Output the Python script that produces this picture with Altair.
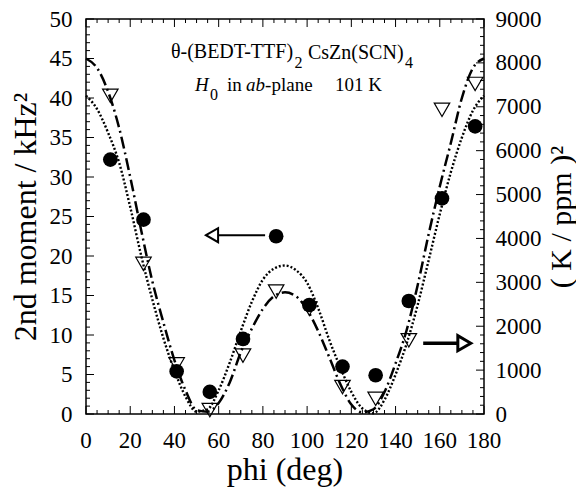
import altair as alt
import pandas as pd

# ---------------- data ----------------
phi_pts = [11, 26, 41, 56, 71, 86, 101, 116, 131, 146, 161, 176]
moment_circles = [32.2, 24.6, 5.4, 2.8, 9.5, 22.5, 13.8, 6.0, 4.9, 14.3, 27.3, 36.4]      # left axis, kHz^2
shift_triangles = [7250, 3420, 1130, 90, 1330, 2790, 2400, 615, 345, 1680, 6930, 7520]    # right axis, (K/ppm)^2

phi_fit = list(range(0, 181, 5))
fit_dashdot = [45.0, 43.8, 40.8, 36.2, 30.0, 23.2, 16.8, 11.6, 6.8, 3.0, 0.5, 0.3, 1.4, 4.0,
               7.8, 10.8, 13.3, 14.9, 15.4, 14.9, 13.2, 10.5, 7.2, 3.8, 1.2, 0.2, 0.6, 2.8,
               6.4, 10.6, 16.3, 22.8, 28.8, 34.3, 40.0, 43.8, 45.0]
fit_dotted = [40.3, 38.6, 35.6, 31.8, 26.2, 20.0, 14.5, 9.6, 5.5, 2.2, 0.3, 0.6, 3.0, 6.5,
              10.5, 14.2, 17.0, 18.4, 18.8, 18.2, 16.6, 13.4, 9.4, 5.9, 2.8, 0.7, 0.1, 1.8,
              5.0, 8.9, 13.8, 19.5, 25.3, 30.6, 35.0, 38.4, 40.3]

x_labels = list(range(0, 181, 20))
yl_labels = list(range(0, 51, 5))
yr_labels = list(range(0, 9001, 1000))
x_minor = list(range(0, 181, 5))
yl_minor = list(range(0, 51, 1))
yr_minor = list(range(0, 9001, 200))
x_title = "phi (deg)"

# the right axis (0..9000) spans the same height as the left axis (0..50)
RIGHT_PER_LEFT = 9000 / 50

# annotation text pieces (position in data units of the left axis)
txt_normal = ["θ-(BEDT-TTF)", "2", "CsZn(SCN)", "4", "0", "in", "-plane", "101 K"]
txt_normal_phi = [38.4, 94.3, 100.4, 144.3, 56.1, 63.8, 81.0, 112.6]
txt_normal_val = [45.05, 43.86, 44.92, 43.86, 39.72, 40.85, 40.85, 40.85]
txt_normal_size = [20, 16, 20, 16, 16, 19, 19, 19]
txt_italic = ["H", "ab"]
txt_italic_phi = [49.3, 72.4]
txt_italic_val = [40.85, 40.85]

# arrows (left-axis data units)
arrow_from = [58.3, 152.5]
arrow_to = [81.0, 170.0]
arrow_val = [22.64, 8.96]
arrow_width = [2.0, 3.5]
head_left_phi, head_left_val = [57.0], [22.64]
head_right_phi, head_right_val = [171.1], [8.96]

# ---------------- chart ----------------
W, H = 398, 395
FONT = "Liberation Serif"
X_MAX, Y_MAX = 180, 50
PX = Y_MAX / H                      # data units of the left axis per pixel
xs = alt.Scale(domain=[0, X_MAX], nice=False, zero=False)
ys = alt.Scale(domain=[0, Y_MAX], nice=False, zero=False)

AX = dict(labelFont=FONT, labelFontSize=23, labelColor="black", titleFont=FONT,
          titleFontWeight="normal", titleColor="black", ticks=False,
          domain=False, grid=False)

fit_df = pd.DataFrame({"phi": phi_fit, "dashdot": fit_dashdot, "dotted": fit_dotted})
pts_df = pd.DataFrame({"phi": phi_pts, "moment": moment_circles, "shift": shift_triangles})

X_none = alt.X("phi:Q", scale=xs, axis=None)

dashdot = alt.Chart(fit_df).mark_line(
    color="black", strokeWidth=2.5, strokeDash=[12, 4, 2, 4], interpolate="monotone"
).encode(
    x=X_none,
    y=alt.Y("dashdot:Q", scale=ys, axis=alt.Axis(values=yl_labels, title="2nd moment / kHz²",
                                                 orient="left", format="d", titleFontSize=32,
                                                 labelPadding=14, titlePadding=7, **AX)),
)

dotted = alt.Chart(fit_df).mark_line(
    color="black", strokeWidth=2.4, strokeDash=[2, 2], interpolate="monotone"
).encode(x=X_none, y=alt.Y("dotted:Q", scale=ys, axis=None))

circles = alt.Chart(pts_df).mark_point(
    shape="circle", filled=True, color="black", size=215, opacity=1
).encode(x=X_none, y=alt.Y("moment:Q", scale=ys, axis=None))

right_vals = [v / RIGHT_PER_LEFT for v in yr_labels]
triangles = alt.Chart(pts_df).transform_calculate(
    shift_left=f"datum.shift / {RIGHT_PER_LEFT}"
).mark_point(
    shape="triangle-down", filled=False, color="black", strokeWidth=1.2, size=240, opacity=1
).encode(
    x=X_none,
    y=alt.Y("shift_left:Q", scale=ys, axis=alt.Axis(
        orient="right", values=right_vals, title="( K / ppm )²",
        labelExpr=f"format(round(datum.value * {RIGHT_PER_LEFT}), 'd')",
        titleFontSize=30, titleAngle=270, titleBaseline="top",
        labelPadding=11, titlePadding=5, **AX)),
)

# x-axis labels and title, placed through the x scale below the plot
xl_df = pd.DataFrame({
    "t": [str(v) for v in x_labels] + [x_title],
    "phi": x_labels + [X_MAX / 2],
    "v": [-34 * PX] * len(x_labels) + [-66 * PX],
    "s": [23] * len(x_labels) + [32],
})
x_axis_text = alt.Chart(xl_df).mark_text(
    font=FONT, align="center", baseline="alphabetic", color="black"
).encode(x=X_none, y=alt.Y("v:Q", scale=ys, axis=None), text="t:N",
         size=alt.Size("s:Q", scale=None, legend=None))

tn_df = pd.DataFrame({"t": txt_normal, "phi": txt_normal_phi, "v": txt_normal_val, "s": txt_normal_size})
ti_df = pd.DataFrame({"t": txt_italic, "phi": txt_italic_phi, "v": txt_italic_val})

text_normal = alt.Chart(tn_df).mark_text(
    font=FONT, align="left", baseline="alphabetic", color="black"
).encode(x=X_none, y=alt.Y("v:Q", scale=ys, axis=None), text="t:N",
         size=alt.Size("s:Q", scale=None, legend=None))
text_italic = alt.Chart(ti_df).mark_text(
    font=FONT, align="left", baseline="alphabetic", color="black", fontStyle="italic", fontSize=19
).encode(x=X_none, y=alt.Y("v:Q", scale=ys, axis=None), text="t:N")

arr_df = pd.DataFrame({"a": arrow_from, "b": arrow_to, "v": arrow_val, "w": arrow_width})
arrows = alt.Chart(arr_df).mark_rule(color="black").encode(
    x=alt.X("a:Q", scale=xs, axis=None), x2="b:Q",
    y=alt.Y("v:Q", scale=ys, axis=None), y2="v:Q",
    strokeWidth=alt.StrokeWidth("w:Q", scale=None, legend=None))
hl = alt.Chart(pd.DataFrame({"phi": head_left_phi, "v": head_left_val})).mark_point(
    shape="triangle-left", filled=True, fill="white", stroke="black", strokeWidth=2, size=196, opacity=1
).encode(x=X_none, y=alt.Y("v:Q", scale=ys, axis=None))
hr = alt.Chart(pd.DataFrame({"phi": head_right_phi, "v": head_right_val})).mark_point(
    shape="triangle-right", filled=True, fill="white", stroke="black", strokeWidth=3, size=225, opacity=1
).encode(x=X_none, y=alt.Y("v:Q", scale=ys, axis=None))

# inward tick marks as small line symbols (size = length^2: major 8 px, minor 4 px)
MAJ_SZ, MIN_SZ = 64, 16


def tick_layer(xv, yv, sizes, path):
    d = pd.DataFrame({"tx": xv, "ty": yv, "sz": sizes})
    return alt.Chart(d).mark_point(
        shape=path, filled=False, stroke="black", strokeWidth=1, opacity=1
    ).encode(x=alt.X("tx:Q", scale=xs, axis=None), y=alt.Y("ty:Q", scale=ys, axis=None),
             size=alt.Size("sz:Q", scale=None, legend=None))


x_sz = [MAJ_SZ if v in x_labels else MIN_SZ for v in x_minor]
yl_sz = [MAJ_SZ if v in yl_labels else MIN_SZ for v in yl_minor]
yr_sz = [MAJ_SZ if v in yr_labels else MIN_SZ for v in yr_minor]
ticks_bottom = tick_layer(x_minor, [0] * len(x_minor), x_sz, "M0,0L0,-2")
ticks_top = tick_layer(x_minor, [Y_MAX] * len(x_minor), x_sz, "M0,0L0,2")
ticks_left = tick_layer([0] * len(yl_minor), yl_minor, yl_sz, "M0,0L2,0")
ticks_right = tick_layer([X_MAX] * len(yr_minor), [v / RIGHT_PER_LEFT for v in yr_minor], yr_sz, "M0,0L-2,0")

chart = alt.layer(
    dashdot, dotted, circles, triangles, text_normal, text_italic, x_axis_text, arrows, hl, hr,
    ticks_bottom, ticks_top, ticks_left, ticks_right,
).resolve_axis(y="independent").properties(
    width=W, height=H,
    padding={"left": 78, "top": 11, "right": 92, "bottom": 73},
    autosize=alt.AutoSizeParams(type="none"),
    background="white",
).configure_view(stroke="black", strokeWidth=1.5)

chart.save("out.html", embed_options={"renderer": "svg", "actions": False})
